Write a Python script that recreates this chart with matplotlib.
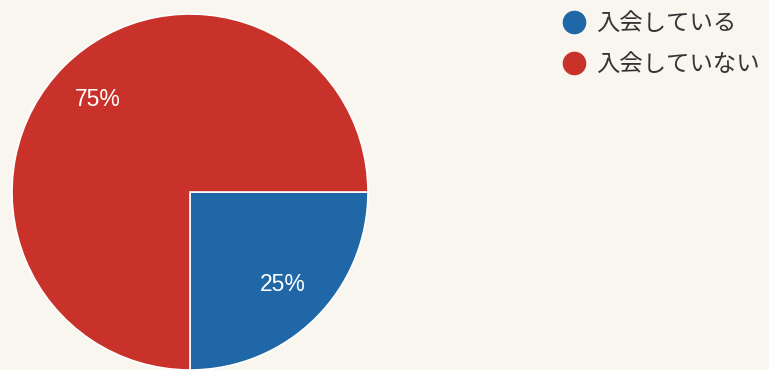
import matplotlib
matplotlib.use("Agg")
import matplotlib.pyplot as plt
from matplotlib.lines import Line2D

categories = ["入会している", "入会していない"]
values = [25, 75]
colors = ["#1f67a6", "#c8322a"]
bg = "#f8f6ee"

plt.rcParams['font.family'] = ['Noto Sans CJK JP', 'DejaVu Sans']

W, H = 769, 370
fig = plt.figure(figsize=(W / 100, H / 100), dpi=100, facecolor=bg)
ax = fig.add_axes([12 / W, 0 / H, 356 / W, 356 / H])
ax.set_facecolor(bg)

wedges, texts, autotexts = ax.pie(
    values, colors=colors, startangle=0, counterclock=False,
    autopct=lambda p: f"{p:.0f}%", pctdistance=0.735,
    wedgeprops=dict(edgecolor="white", linewidth=1.2),
    textprops=dict(color="white", fontsize=16.5, family=['Liberation Sans']),
)
ax.set_xlim(-1, 1)
ax.set_ylim(-1, 1)
ax.set_aspect("equal")
ax.axis("off")

handles = [Line2D([0], [0], marker="o", linestyle="none", markersize=16,
                  markerfacecolor=c, markeredgecolor=c) for c in colors]
fig.legend(handles, categories, loc="upper left",
           bbox_to_anchor=(553 / W, 1 - 3 / H), frameon=False,
           fontsize=16.8, labelspacing=0.75, handletextpad=0.45,
           handlelength=1.0, borderaxespad=0, labelcolor="#333333")

fig.savefig("out.png", dpi=100, facecolor=bg)
